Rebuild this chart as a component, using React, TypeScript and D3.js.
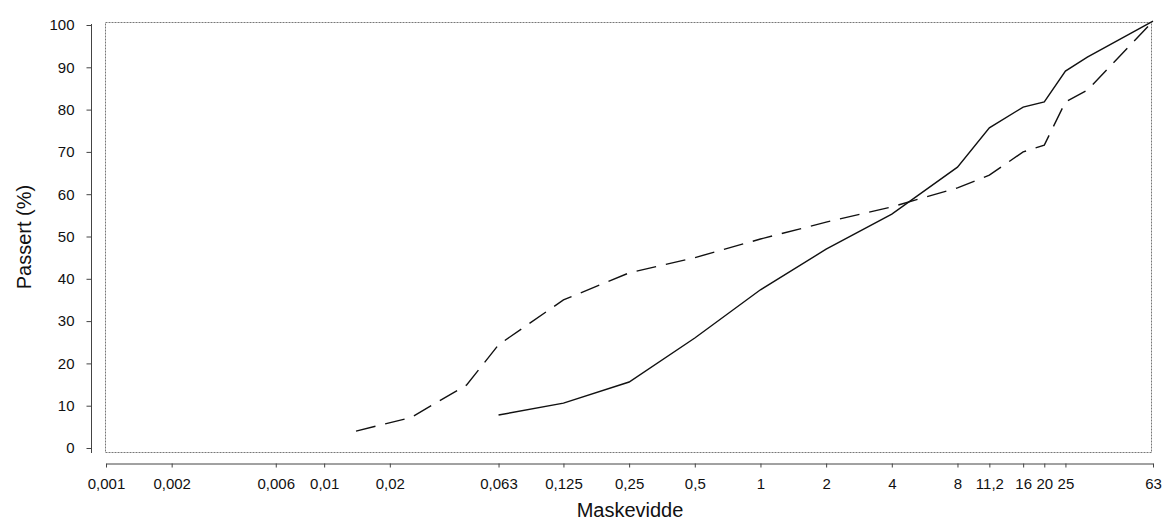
import React, { useEffect, useRef } from 'react';
import * as d3 from 'd3';

const xTicks = [0.001, 0.002, 0.006, 0.01, 0.02, 0.063, 0.125, 0.25, 0.5, 1, 2, 4, 8, 11.2, 16, 20, 25, 63];
const yTicks = [0, 10, 20, 30, 40, 50, 60, 70, 80, 90, 100];

// solid curve
const solidSizes = [0.063, 0.125, 0.25, 0.5, 1, 2, 4, 8, 11.2, 16, 20, 25, 31.5, 63];
const solidPassed = [7.8, 10.6, 15.6, 26, 37.4, 47, 55.3, 66.4, 75.7, 80.6, 81.8, 89.1, 92.4, 100.9];

// dashed curve
const dashedSizes = [0.014, 0.025, 0.045, 0.063, 0.125, 0.25, 0.5, 1, 2, 4, 8, 11.2, 16, 20, 25, 31.5, 63];
const dashedPassed = [4.0, 7.2, 14.9, 24.4, 35, 41.4, 45, 49.4, 53.4, 57, 61.5, 64.5, 70, 71.6, 81.8, 84.6, 100.9];

const W = 1168;
const H = 531;

export default function App() {
  const ref = useRef<SVGSVGElement>(null);

  useEffect(() => {
    document.body.style.margin = '0';
    const svg = d3.select(ref.current);
    svg.selectAll('*').remove();

    const x = d3.scaleLog().domain([0.001, 63]).range([106, 1153]);
    const y = d3.scaleLinear().domain([0, 100]).range([448, 25]);

    const font = 'Liberation Sans, Arial, sans-serif';

    // plot frame (dotted)
    svg.append('rect')
      .attr('x', 105.5).attr('y', 22.5)
      .attr('width', 1046).attr('height', 430)
      .attr('fill', 'none')
      .attr('stroke', '#777')
      .attr('stroke-width', 1)
      .attr('stroke-dasharray', '2,1');

    // y axis
    const yAxis = d3.axisLeft(y)
      .tickValues(yTicks)
      .tickSize(5)
      .tickSizeOuter(0)
      .tickPadding(12);
    const gy = svg.append('g')
      .attr('transform', 'translate(91.5,0)')
      .call(yAxis);
    gy.select('.domain').remove();
    gy.append('line')
      .attr('x1', 0).attr('x2', 0)
      .attr('y1', 24).attr('y2', 453)
      .attr('stroke', '#444');
    gy.selectAll('.tick line').attr('stroke', '#444');
    gy.selectAll('.tick text')
      .attr('font-family', font)
      .attr('font-size', 15)
      .attr('fill', '#111');

    // x axis
    const xAxis = d3.axisBottom(x)
      .tickValues(xTicks)
      .tickFormat((d) => String(d).replace('.', ','))
      .tickSize(4)
      .tickSizeOuter(0)
      .tickPadding(11);
    const gx = svg.append('g')
      .attr('transform', 'translate(0,463.5)')
      .call(xAxis);
    gx.select('.domain').attr('stroke', '#444');
    gx.selectAll('.tick line').attr('stroke', '#444');
    gx.selectAll('.tick text')
      .attr('font-family', font)
      .attr('font-size', 15)
      .attr('fill', '#111');

    // axis titles
    svg.append('text')
      .attr('x', 630).attr('y', 517)
      .attr('text-anchor', 'middle')
      .attr('font-family', font)
      .attr('font-size', 20)
      .attr('fill', '#111')
      .text('Maskevidde');

    svg.append('text')
      .attr('transform', 'translate(31,237) rotate(-90)')
      .attr('text-anchor', 'middle')
      .attr('font-family', font)
      .attr('font-size', 20)
      .attr('fill', '#111')
      .text('Passert (%)');

    const line = d3.line<[number, number]>()
      .x((d) => x(d[0]))
      .y((d) => y(d[1]));

    svg.append('path')
      .datum(solidSizes.map((s, i) => [s, solidPassed[i]] as [number, number]))
      .attr('fill', 'none')
      .attr('stroke', '#111')
      .attr('stroke-width', 1.4)
      .attr('d', line);

    svg.append('path')
      .datum(dashedSizes.map((s, i) => [s, dashedPassed[i]] as [number, number]))
      .attr('fill', 'none')
      .attr('stroke', '#111')
      .attr('stroke-width', 1.4)
      .attr('stroke-dasharray', '20,10')
      .attr('d', line);
  }, []);

  return <svg ref={ref} width={W} height={H} style={{ display: 'block', background: '#fff' }} />;
}
